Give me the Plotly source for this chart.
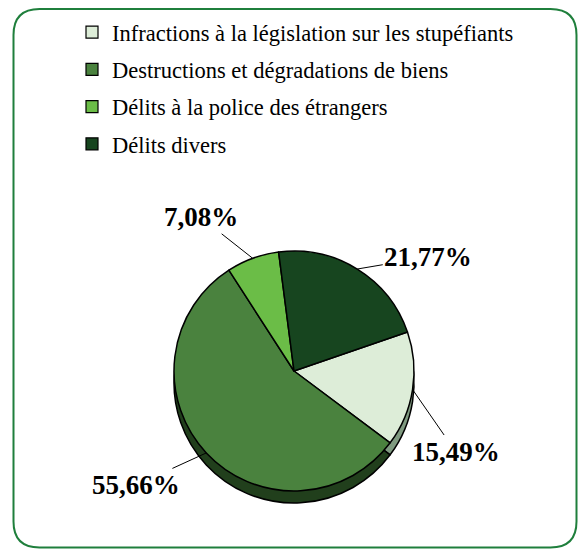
import math
import plotly.graph_objects as go

categories = [
    "Infractions à la législation sur les stupéfiants",
    "Destructions et dégradations de biens",
    "Délits à la police des étrangers",
    "Délits divers",
]
values = [15.49, 55.66, 7.08, 21.77]

colors = ["#ddedd8", "#4a823e", "#6bbd47", "#17451f"]
shadow_colors = ["#7f9a80", "#213f1c", "#3f7a2c", "#0c2a10"]
# label offsets (pixels) from slice edge, styling only
label_offsets = [(43, 62), (-70, 32), (-52, -41), (71, -12)]

FONT = "Liberation Serif, Times New Roman, Times, serif"

W, H = 579, 549
cx, cy, r = 294, 371, 120  # pixel centre / radius of pie
depth = 12
rotation = 71

fig = go.Figure()

def dom(cy_px):
    return dict(x=[(cx - r) / W, (cx + r) / W],
                y=[(H - cy_px - r) / H, (H - cy_px + r) / H])

fig.add_trace(go.Pie(values=values, labels=categories, sort=False, direction="clockwise",
                     rotation=rotation, domain=dom(cy + depth), textinfo="none",
                     marker=dict(colors=shadow_colors, line=dict(color="black", width=1.5)),
                     showlegend=False, hoverinfo="skip"))
fig.add_trace(go.Pie(values=values, labels=categories, sort=False, direction="clockwise",
                     rotation=rotation, domain=dom(cy), textinfo="none",
                     marker=dict(colors=colors, line=dict(color="black", width=1.5)),
                     showlegend=False))

for name, c in zip(categories, colors):
    fig.add_trace(go.Scatter(x=[None], y=[None], mode="markers", name=name, legendgroup=name,
                             marker=dict(symbol="square", size=12, color=c,
                                         line=dict(color="black", width=1.2))))

total = sum(values)
start = rotation
for v, (ax, ay) in zip(values, label_offsets):
    mid = math.radians(start + v / total * 360 / 2)
    start += v / total * 360
    px = cx + r * math.sin(mid)
    py = cy - r * math.cos(mid)
    txt = f"{v:.2f}".replace(".", ",") + "%"
    fig.add_annotation(x=px / W, y=(H - py) / H, xref="paper", yref="paper",
                       text=f"<b>{txt}</b>", showarrow=True, arrowhead=0, arrowwidth=1,
                       arrowcolor="black", ax=ax, ay=ay, standoff=0,
                       font=dict(family=FONT, size=27, color="black"))

rad = 26
x0, x1 = 13.5, 576.5
y0, y1 = 9, 547.5
def P(x, y):
    return f"{x / W:.5f},{(H - y) / H:.5f}"
path = (f"M {P(x0 + rad, y0)} L {P(x1 - rad, y0)} Q {P(x1, y0)} {P(x1, y0 + rad)} "
        f"L {P(x1, y1 - rad)} Q {P(x1, y1)} {P(x1 - rad, y1)} "
        f"L {P(x0 + rad, y1)} Q {P(x0, y1)} {P(x0, y1 - rad)} "
        f"L {P(x0, y0 + rad)} Q {P(x0, y0)} {P(x0 + rad, y0)} Z")
fig.add_shape(type="path", path=path, xref="paper", yref="paper",
              line=dict(color="#1f7f3c", width=2), layer="below")

fig.update_layout(
    width=W, height=H, margin=dict(l=0, r=0, t=0, b=0),
    paper_bgcolor="white", plot_bgcolor="white",
    xaxis=dict(visible=False), yaxis=dict(visible=False),
    font=dict(family=FONT, color="black"),
    legend=dict(x=72 / W, y=1 - 11 / H, xanchor="left", yanchor="top",
                font=dict(family=FONT, size=22.5, color="black"),
                tracegroupgap=5, bgcolor="rgba(0,0,0,0)"),
)

fig.write_html("out.html", config={"displayModeBar": False},
               post_script="document.body.style.margin='0';document.body.style.overflow='hidden';")
